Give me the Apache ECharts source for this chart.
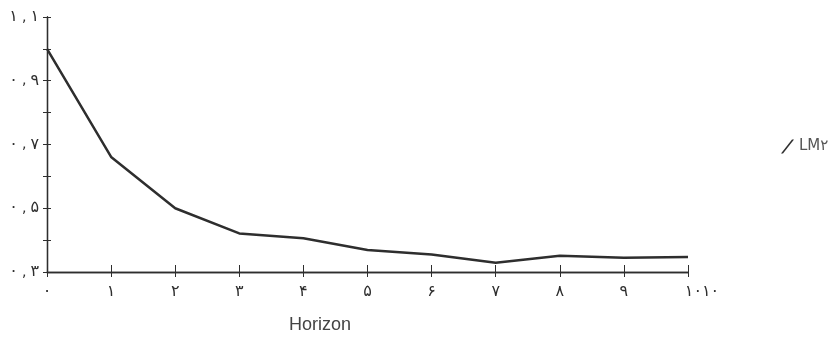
<!DOCTYPE html>
<html><head><meta charset="utf-8">
<script src="https://cdn.jsdelivr.net/npm/echarts@6/dist/echarts.min.js"></script>
<style>html,body{margin:0;padding:0;background:#fff}#c{width:831px;height:343px}</style>
</head><body><div id="c"></div>
<script>
const horizons = [0,1,2,3,4,5,6,7,8,9,10];
const lm2 = [1.0,0.661,0.50,0.421,0.406,0.369,0.355,0.329,0.351,0.345,0.347];
const xTickLabels = ['۰','۱','۲','۳','۴','۵','۶','۷','۸','۹','۱۰۱۰'];
const yTickLabels = {'0.3':['۰','۳'],'0.5':['۰','۵'],'0.7':['۰','۷'],'0.9':['۰','۹'],'1.1':['۱','۱']};
const seriesName = 'LM۲';
const xTitle = 'Horizon';

const ink = '#2e2e2e';
const font = 'DejaVu Sans';
const chart = echarts.init(document.getElementById('c'));
const grid = {left:47,right:143,top:17,bottom:71};
const xBase = {type:'value',min:0,max:10,interval:1,
  axisLine:{lineStyle:{color:ink,width:1.3}},splitLine:{show:false}};
const yBase = {type:'value',min:0.3,max:1.1,interval:0.1,
  axisLine:{show:true,lineStyle:{color:ink,width:1.3}},splitLine:{show:false}};
chart.setOption({
  animation:false,
  grid:grid,
  title:{text:xTitle,left:284,top:311,textStyle:{fontFamily:'Liberation Sans',fontSize:18,fontWeight:'normal',color:'#444'}},
  legend:{data:[seriesName],left:776,top:134,itemWidth:13,itemHeight:14,itemGap:6,
    icon:'path://M0,14 L11,0 L13,0 L2,14 Z',
    textStyle:{fontFamily:font,fontSize:15,color:'#555'}},
  xAxis:[
    Object.assign({},xBase,{axisTick:{length:5,lineStyle:{color:ink}},
      axisLabel:{margin:12,fontFamily:font,fontSize:16,color:ink,
        formatter:function(v){const s=xTickLabels[Math.round(v)];return v===10?'{a|'+s+'}':s;},
        rich:{a:{padding:[0,0,0,28],fontFamily:font,fontSize:16,color:ink}}}}),
    Object.assign({},xBase,{position:'bottom',axisTick:{inside:true,length:7,lineStyle:{color:ink}},axisLabel:{show:false}})
  ],
  yAxis:[
    Object.assign({},yBase,{axisTick:{length:4,lineStyle:{color:ink}},
      axisLabel:{margin:8,fontFamily:font,fontSize:16,color:ink,
        formatter:function(v){const p=yTickLabels[v.toFixed(1)];return p?'{d|'+p[0]+'}{c|,}{d|'+p[1]+'}':'';},
        rich:{d:{fontFamily:font,fontSize:16,color:ink},c:{fontFamily:font,fontSize:14,color:ink,padding:[0,4,0,4]}}}}),
    Object.assign({},yBase,{position:'left',axisTick:{inside:true,length:4,lineStyle:{color:ink}},axisLabel:{show:false}})
  ],
  series:[{name:seriesName,type:'line',xAxisIndex:0,yAxisIndex:0,
    data:horizons.map((h,i)=>[h,lm2[i]]),showSymbol:false,symbol:'none',
    itemStyle:{color:ink},lineStyle:{color:ink,width:2.5}}]
});
</script></body></html>
